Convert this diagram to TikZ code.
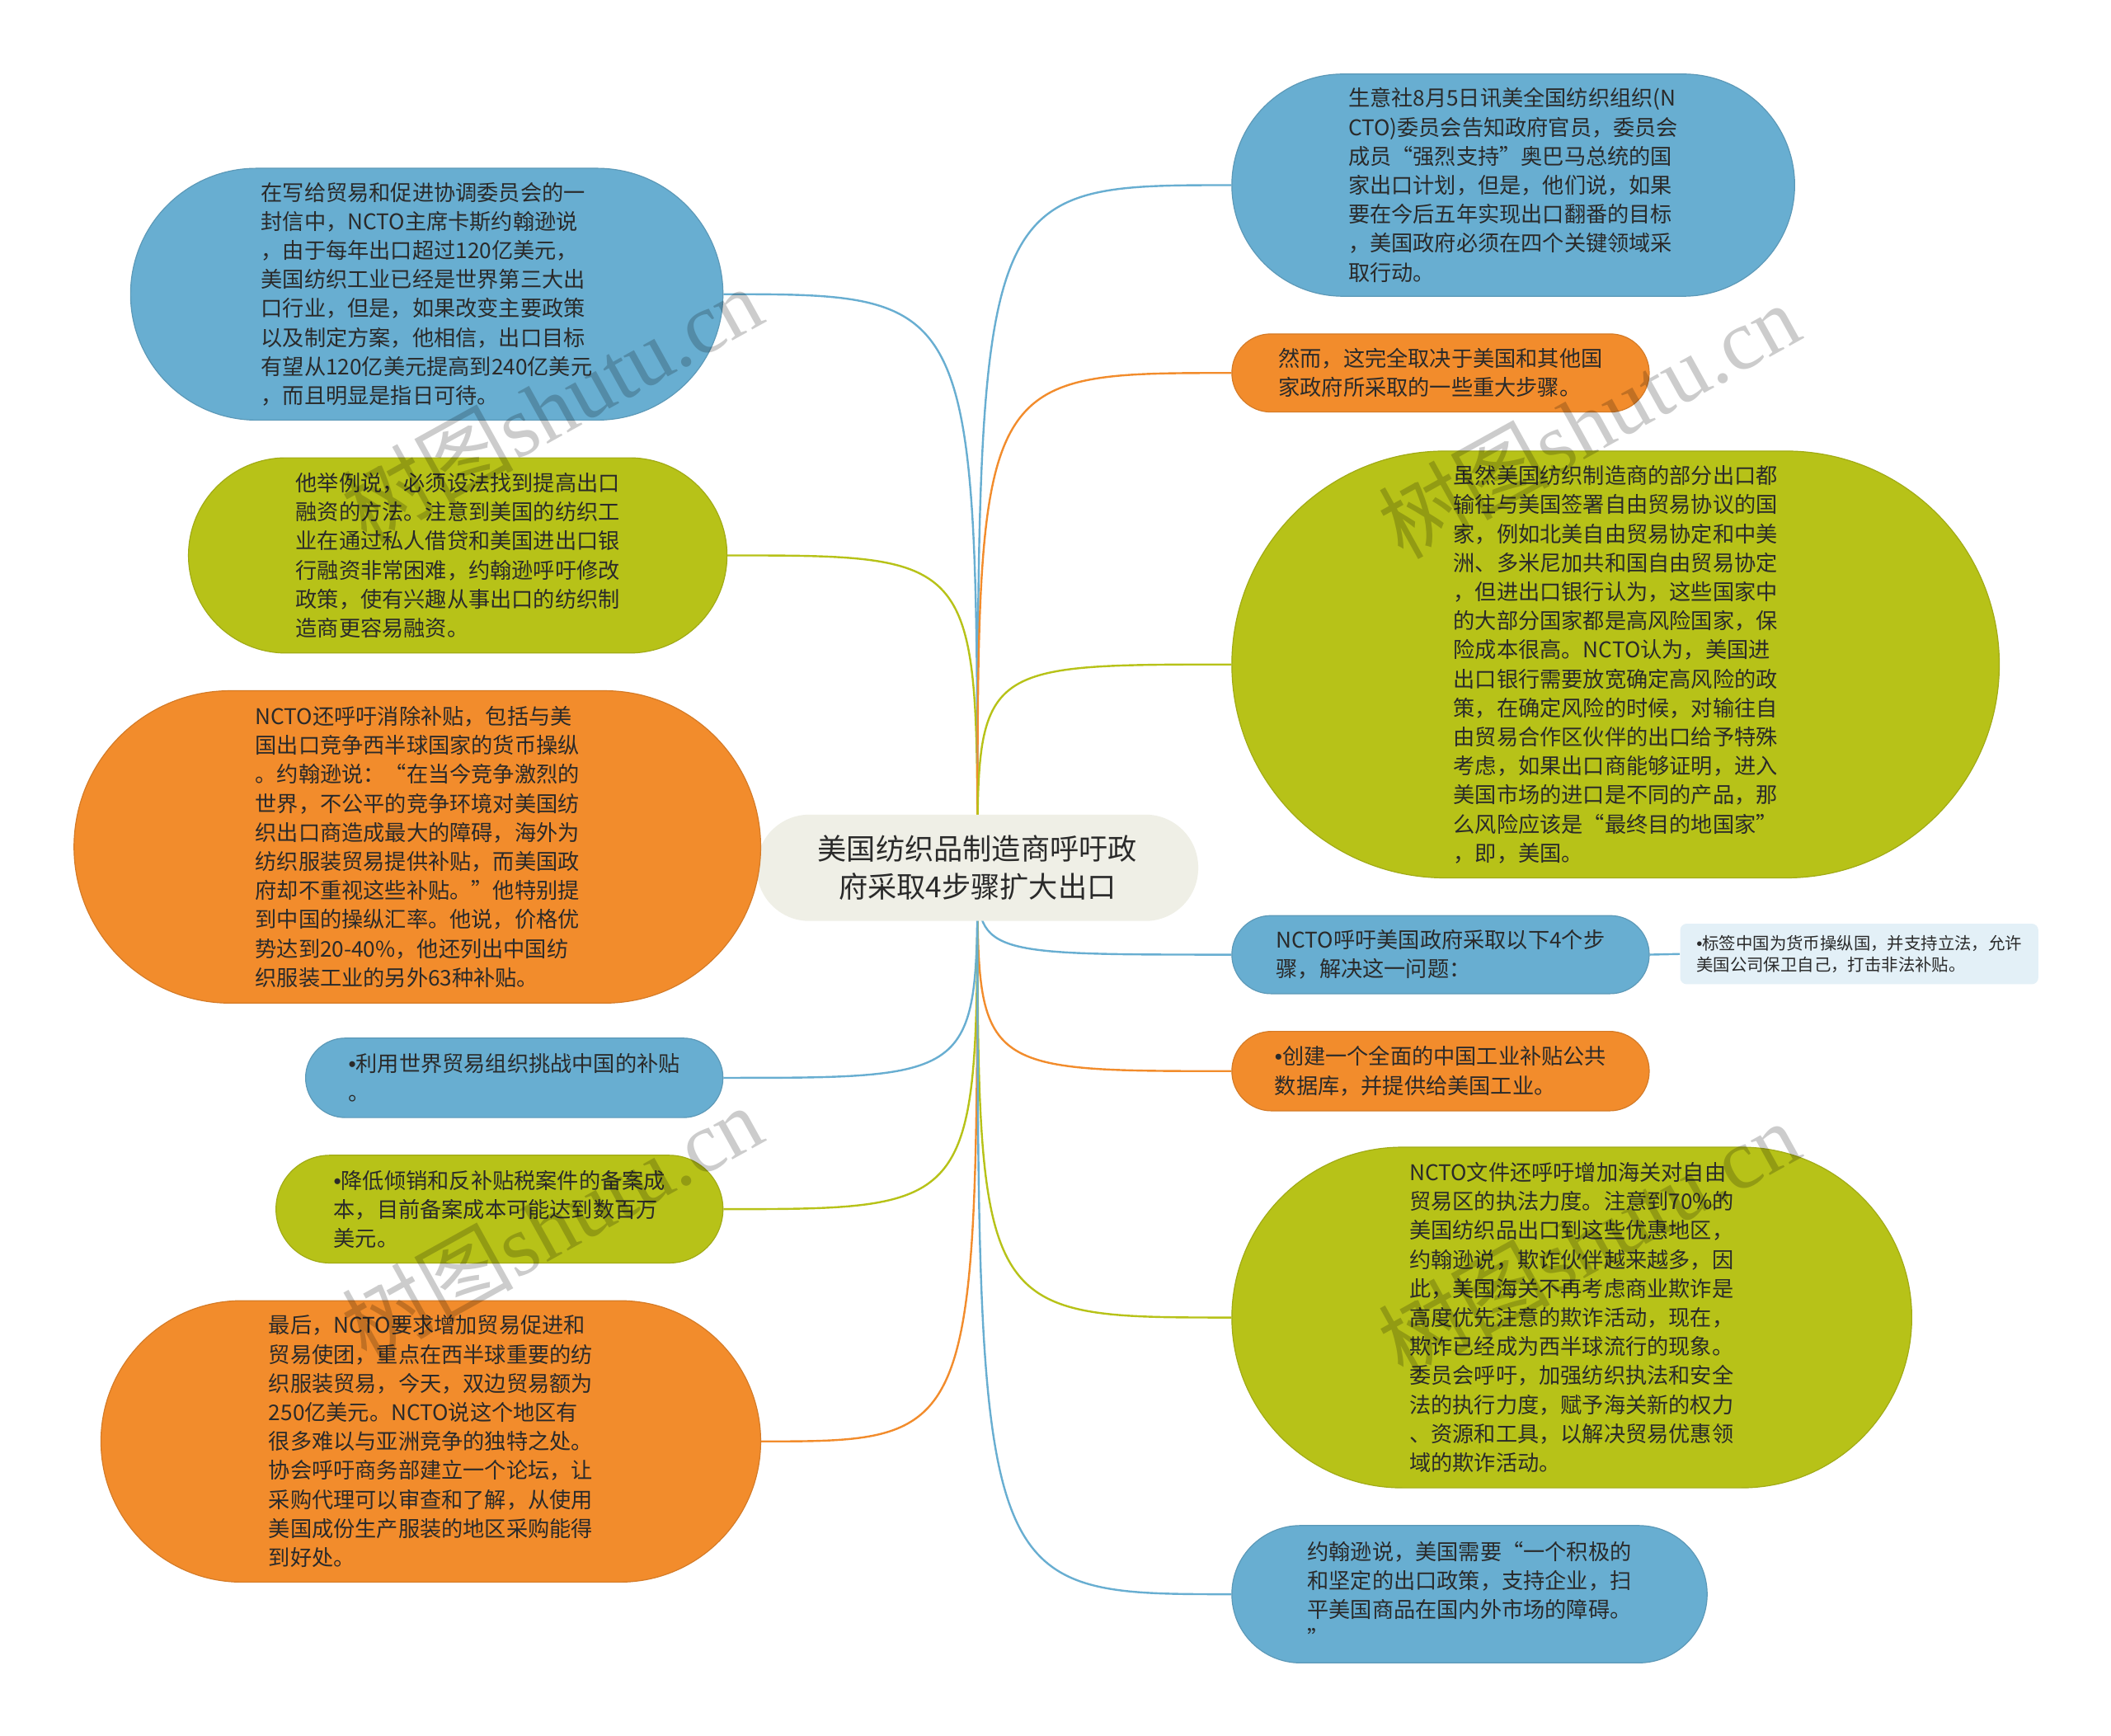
\documentclass[tikz,border=0pt]{standalone}
\usepackage{fontspec}
\setmainfont{Noto Sans CJK SC}
\newfontfamily\wmlatin{Liberation Serif}
\newfontfamily\bulfont{Liberation Sans}
\newcommand\bul{{\bulfont •}}
\usetikzlibrary{calc}
\definecolor{cblue}{HTML}{68AED1}
\definecolor{corange}{HTML}{F28C2C}
\definecolor{cgreen}{HTML}{B7C218}
\definecolor{ccenter}{HTML}{EFEFE6}
\definecolor{clight}{HTML}{E3F0F7}
\definecolor{textc}{HTML}{2A2A2A}
\pgfdeclarelayer{bg}
\pgfsetlayers{bg,main}
\tikzset{
  bubble/.style={inner sep=0pt, align=left, text=textc, line width=0.6pt,
    font=\fontsize{13.1pt}{17.6pt}\selectfont},
  conn/.style={line width=1.2pt},
  wm/.style={text=black, opacity=0.2, inner sep=0pt,
    font=\fontsize{52pt}{52pt}\selectfont},
}
\newcommand\mnode[7]{%
  \pgfmathsetmacro\mcx{(#3+#5)/2}%
  \pgfmathsetmacro\mcy{(#4+#6)/2}%
  \pgfmathsetmacro\mww{(#5-#3)*0.8163}%
  \pgfmathsetmacro\mhh{(#6-#4)*0.8163}%
  \pgfmathsetmacro\mrr{\mhh/2-0.02}%
  \node[bubble, fill=#2, draw=#2!88!black, minimum width=\mww pt,
    minimum height=\mhh pt, rounded corners=\mrr pt] (#1) at (\mcx,\mcy) {#7};%
}
\begin{document}
\begin{tikzpicture}[x=0.8163pt, y=-0.8163pt]
\useasboundingbox (0,0) rectangle (1568,1289);

% centre
\node[inner sep=0pt, align=center, text=textc, fill=ccenter,
  minimum width=328*0.8163pt, minimum height=79*0.8163pt,
  rounded corners=32pt, font=\fontsize{17.6pt}{22.9pt}\selectfont]
  (C) at (726,644.5) {美国纺织品制造商呼吁政\\府采取4步骤扩大出口};

% left side
\mnode{L1}{cblue}{97}{125}{537}{312}{在写给贸易和促进协调委员会的一\\封信中，NCTO主席卡斯约翰逊说\\，由于每年出口超过120亿美元，\\美国纺织工业已经是世界第三大出\\口行业，但是，如果改变主要政策\\以及制定方案，他相信，出口目标\\有望从120亿美元提高到240亿美元\\，而且明显是指日可待。}
\mnode{L2}{cgreen}{140}{340}{540}{485}{他举例说，必须设法找到提高出口\\融资的方法。注意到美国的纺织工\\业在通过私人借贷和美国进出口银\\行融资非常困难，约翰逊呼吁修改\\政策，使有兴趣从事出口的纺织制\\造商更容易融资。}
\mnode{L3}{corange}{55}{513}{565}{745}{NCTO还呼吁消除补贴，包括与美\\国出口竞争西半球国家的货币操纵\\。约翰逊说：“在当今竞争激烈的\\世界，不公平的竞争环境对美国纺\\织出口商造成最大的障碍，海外为\\纺织服装贸易提供补贴，而美国政\\府却不重视这些补贴。”他特别提\\到中国的操纵汇率。他说，价格优\\势达到20-40\%，他还列出中国纺\\织服装工业的另外63种补贴。}
\mnode{L4}{cblue}{227}{771}{537}{830}{\bul 利用世界贸易组织挑战中国的补贴\\。}
\mnode{L5}{cgreen}{205}{858}{537}{938}{\bul 降低倾销和反补贴税案件的备案成\\本，目前备案成本可能达到数百万\\美元。}
\mnode{L6}{corange}{75}{966}{565}{1175}{最后，NCTO要求增加贸易促进和\\贸易使团，重点在西半球重要的纺\\织服装贸易，今天，双边贸易额为\\250亿美元。NCTO说这个地区有\\很多难以与亚洲竞争的独特之处。\\协会呼吁商务部建立一个论坛，让\\采购代理可以审查和了解，从使用\\美国成份生产服装的地区采购能得\\到好处。}

% right side
\mnode{R1}{cblue}{915}{55}{1333}{220}{生意社8月5日讯美全国纺织组织(N\\CTO)委员会告知政府官员，委员会\\成员“强烈支持”奥巴马总统的国\\家出口计划，但是，他们说，如果\\要在今后五年实现出口翻番的目标\\，美国政府必须在四个关键领域采\\取行动。}
\mnode{R2}{corange}{915}{248}{1225}{306}{然而，这完全取决于美国和其他国\\家政府所采取的一些重大步骤。}
\mnode{R3}{cgreen}{915}{335}{1485}{652}{虽然美国纺织制造商的部分出口都\\输往与美国签署自由贸易协议的国\\家，例如北美自由贸易协定和中美\\洲、多米尼加共和国自由贸易协定\\，但进出口银行认为，这些国家中\\的大部分国家都是高风险国家，保\\险成本很高。NCTO认为，美国进\\出口银行需要放宽确定高风险的政\\策，在确定风险的时候，对输往自\\由贸易合作区伙伴的出口给予特殊\\考虑，如果出口商能够证明，进入\\美国市场的进口是不同的产品，那\\么风险应该是“最终目的地国家”\\，即，美国。}
\mnode{R4}{cblue}{915}{680}{1225}{738}{NCTO呼吁美国政府采取以下4个步\\骤，解决这一问题：}
\node[inner sep=0pt, align=left, text=textc, fill=clight, rounded corners=4pt,
  minimum width=266*0.8163pt, minimum height=45*0.8163pt,
  font=\fontsize{10.2pt}{13pt}\selectfont]
  (R4b) at (1381,708.5) {\bul 标签中国为货币操纵国，并支持立法，允许\\美国公司保卫自己，打击非法补贴。};
\mnode{R5}{corange}{915}{766}{1225}{825}{\bul 创建一个全面的中国工业补贴公共\\数据库，并提供给美国工业。}
\mnode{R6}{cgreen}{915}{852}{1420}{1105}{NCTO文件还呼吁增加海关对自由\\贸易区的执法力度。注意到70\%的\\美国纺织品出口到这些优惠地区，\\约翰逊说，欺诈伙伴越来越多，因\\此，美国海关不再考虑商业欺诈是\\高度优先注意的欺诈活动，现在，\\欺诈已经成为西半球流行的现象。\\委员会呼吁，加强纺织执法和安全\\法的执行力度，赋予海关新的权力\\、资源和工具，以解决贸易优惠领\\域的欺诈活动。}
\mnode{R7}{cblue}{915}{1133}{1268}{1235}{约翰逊说，美国需要“一个积极的\\和坚定的出口政策，支持企业，扫\\平美国商品在国内外市场的障碍。\\”}

% watermarks
\node[wm, rotate=29] (W1) at (410,300) {树图{\wmlatin shutu.cn}};
\node[wm, rotate=29] (W2) at (1180,312) {树图{\wmlatin shutu.cn}};
\node[wm, rotate=29] (W3) at (410,908) {树图{\wmlatin shutu.cn}};
\node[wm, rotate=29] (W4) at (1180,920) {树图{\wmlatin shutu.cn}};

\begin{pgfonlayer}{bg}
\fill[white] (0,0) rectangle (1568,1289);
\foreach \t/\c in {L1/cblue,L2/cgreen,L3/corange,L4/cblue,L5/cgreen,L6/corange}{
  \draw[conn, \c] (C.center) .. controls (C.center |- \t.east) and (C.center |- \t.east) .. (\t.east);
}
\foreach \t/\c in {R1/cblue,R2/corange,R3/cgreen,R4/cblue,R5/corange,R6/cgreen,R7/cblue}{
  \draw[conn, \c] (C.center) .. controls (C.center |- \t.west) and (C.center |- \t.west) .. (\t.west);
}
\draw[conn, cblue] (R4.east) -- (R4b.west);
\end{pgfonlayer}
\end{tikzpicture}
\end{document}
